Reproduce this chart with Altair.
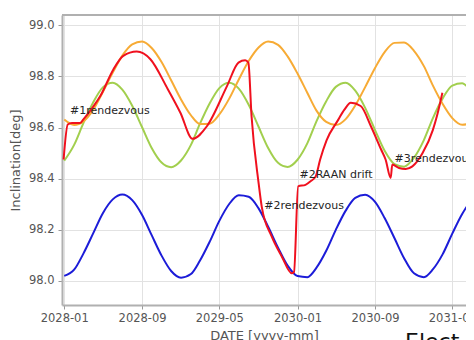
import altair as alt
import pandas as pd

# monthly sample dates (first of each month)
month_dates = pd.date_range("2028-01-01", periods=44, freq="MS").strftime("%Y-%m-%d").tolist()

blue_vals = [98.020, 98.044, 98.107, 98.187, 98.265, 98.319, 98.338, 98.316, 98.258, 98.179, 98.099, 98.039,
             98.013, 98.027, 98.079, 98.154, 98.235, 98.301, 98.335, 98.329, 98.284, 98.212, 98.130, 98.060,
             98.019, 98.015, 98.051, 98.118, 98.200, 98.275, 98.325, 98.337, 98.309, 98.246, 98.167, 98.089,
             98.030, 98.015, 98.045, 98.105, 98.185, 98.262, 98.316, 98.338]

orange_vals = [98.631, 98.610, 98.624, 98.670, 98.739, 98.815, 98.881, 98.925, 98.936, 98.911, 98.856, 98.785,
               98.710, 98.648, 98.614, 98.615, 98.651, 98.713, 98.788, 98.860, 98.913, 98.936, 98.923, 98.878,
               98.811, 98.735, 98.667, 98.622, 98.610, 98.633, 98.686, 98.758, 98.833, 98.895, 98.931, 98.932,
               98.900, 98.840, 98.765, 98.692, 98.637, 98.611, 98.619, 98.659]

green_vals = [98.470, 98.532, 98.617, 98.699, 98.757, 98.775, 98.748, 98.685, 98.601, 98.520, 98.463, 98.445,
              98.471, 98.532, 98.614, 98.695, 98.754, 98.775, 98.752, 98.689, 98.603, 98.520, 98.462, 98.446,
              98.474, 98.539, 98.623, 98.703, 98.759, 98.775, 98.744, 98.677, 98.590, 98.509, 98.457, 98.447,
              98.482, 98.551, 98.636, 98.714, 98.764, 98.773, 98.737, 98.666]

red_dates = ["2027-12-30", "2028-01-12", "2028-01-25", "2028-02-20", "2028-03-01", "2028-03-28",
             "2028-04-23", "2028-06-03", "2028-07-04", "2028-08-15", "2028-09-27", "2028-11-18",
             "2028-12-30", "2029-02-06", "2029-03-23", "2029-05-25", "2029-06-30", "2029-07-21",
             "2029-07-31", "2029-08-10", "2029-09-01", "2029-09-11", "2029-10-12", "2029-11-13",
             "2029-12-14", "2029-12-21", "2030-01-03", "2030-01-26", "2030-02-11", "2030-02-27",
             "2030-03-13", "2030-04-02", "2030-05-06", "2030-05-28", "2030-06-17", "2030-07-18",
             "2030-08-19", "2030-09-20", "2030-10-04", "2030-10-20", "2030-10-25", "2030-11-15",
             "2030-12-06", "2030-12-27", "2031-01-28", "2031-03-01", "2031-03-15", "2031-03-31"]
red_vals = [98.475, 98.612, 98.618, 98.618, 98.632, 98.675,
            98.723, 98.827, 98.880, 98.897, 98.867, 98.756,
            98.658, 98.556, 98.605, 98.762, 98.854, 98.863,
            98.854, 98.644, 98.384, 98.290, 98.174, 98.095,
            98.030, 98.035, 98.370, 98.376, 98.390, 98.409,
            98.475, 98.550, 98.625, 98.670, 98.697, 98.684,
            98.605, 98.514, 98.475, 98.403, 98.455, 98.442,
            98.438, 98.448, 98.500, 98.590, 98.650, 98.736]

note_texts = ["#1rendezvous", "#2rendezvous", "#2RAAN drift", "#3rendezvous"]
note_dates = ["2028-01-19", "2029-09-19", "2030-01-07", "2030-11-01"]
note_vals = [98.664, 98.294, 98.416, 98.475]

tick_dates = [(2028, 1), (2028, 9), (2029, 5), (2030, 1), (2030, 9), (2031, 5)]
y_ticks = [98.0, 98.2, 98.4, 98.6, 98.8, 99.0]

W, H = 404, 290
SPINE = "#b0b0b0"

x_scale = alt.Scale(type="utc", domain=[alt.DateTime(year=2027, month=12, date=25, utc=True),
                                        alt.DateTime(year=2031, month=6, date=13, utc=True)])
y_scale = alt.Scale(domain=[97.906, 99.04], nice=False, zero=False)

x_axis = alt.Axis(values=[alt.DateTime(year=y, month=m, date=1, utc=True) for y, m in tick_dates],
                  format="%Y-%m", title="DATE [yyyy-mm]", tickSize=4, labelPadding=3, titlePadding=6)
y_axis = alt.Axis(values=y_ticks, format=".1f", title="Inclination[deg]", tickSize=4, labelPadding=4,
                  titlePadding=6)


def line_layer(dates, vals, color):
    df = pd.DataFrame({"date": dates, "val": vals})
    return alt.Chart(df).mark_line(color=color, strokeWidth=2, interpolate="monotone", clip=True).encode(
        x=alt.X("date:T", scale=x_scale, axis=x_axis),
        y=alt.Y("val:Q", scale=y_scale, axis=y_axis),
    )


green = line_layer(month_dates, green_vals, "#a2cf4e")
orange = line_layer(month_dates, orange_vals, "#f7ab35")
blue = line_layer(month_dates, blue_vals, "#1c1cd8")
red = line_layer(red_dates, red_vals, "#f0101e")

notes_df = pd.DataFrame({"date": note_dates, "val": note_vals, "text": note_texts})
notes = alt.Chart(notes_df).mark_text(align="left", baseline="middle", font="DejaVu Sans", fontSize=11,
                                      color="#262626").encode(
    x=alt.X("date:T", scale=x_scale, axis=x_axis),
    y=alt.Y("val:Q", scale=y_scale, axis=y_axis),
    text="text:N",
)

top_spine = alt.Chart(pd.DataFrame({"k": [0]})).mark_rule(color=SPINE, strokeWidth=2).encode(
    x=alt.value(0), x2=alt.value(W), y=alt.value(0)
)

stray = alt.Chart(pd.DataFrame({"t": ["Elect"]})).mark_text(
    align="left", baseline="alphabetic", font="DejaVu Sans", fontSize=22, color="#111111"
).encode(x=alt.value(343), y=alt.value(334), text="t:N")

chart = alt.layer(green, orange, blue, red, notes, top_spine, stray).properties(
    width=W, height=H,
    padding={"left": 54, "top": 7, "right": 0, "bottom": 40},
    autosize=alt.AutoSizeParams(type="none"),
).configure_view(stroke=None).configure_axis(
    domain=True, domainColor=SPINE, domainWidth=2, gridColor="#e2e2e2", gridWidth=1, tickColor="#999999",
    labelColor="#555555", titleColor="#555555", labelFont="DejaVu Sans", titleFont="DejaVu Sans",
    labelFontSize=11.5, titleFontSize=13, titleFontWeight="normal",
)

chart.save("out.html", embed_options={"renderer": "svg", "actions": False})
